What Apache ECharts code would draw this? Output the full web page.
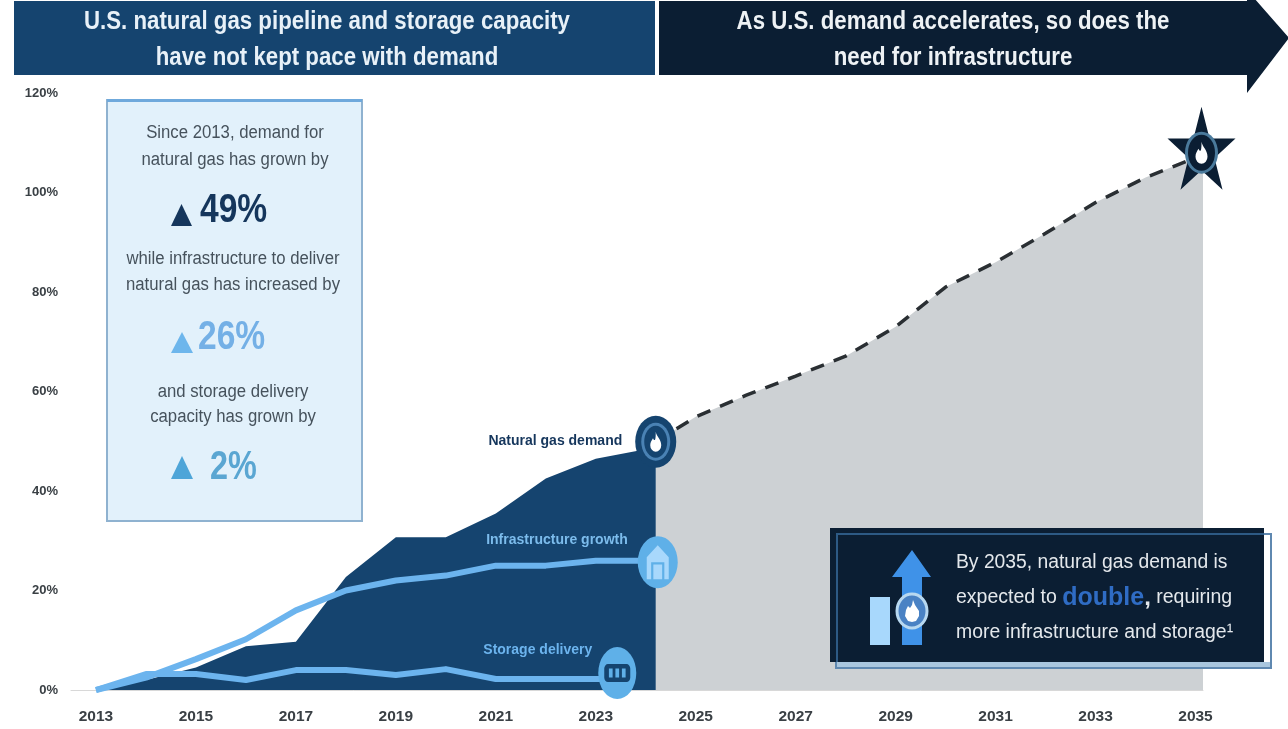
<!DOCTYPE html>
<html>
<head>
<meta charset="utf-8">
<style>html,body{margin:0;padding:0;background:#fff}#c{width:1288px;height:729px}</style>
<script src="https://cdn.jsdelivr.net/npm/echarts@6/dist/echarts.min.js"></script>
</head>
<body>
<div id="c"></div>
<script>
const tickYears = [2013,2015,2017,2019,2021,2023,2025,2027,2029,2031,2033,2035];
const histYears = [2013,2014,2015,2016,2017,2018,2019,2020,2021,2022,2023,2024,2024.2];
const demand = [0,2,4.5,8.8,9.7,22.7,30.7,30.7,35.5,42.5,46.5,48.4,49.9];
const infraYears = [2013,2014,2015,2016,2017,2018,2019,2020,2021,2022,2023,2024,2024.2];
const infrastructure = [0,2.5,6.2,10.2,16,20,22,23,25,25,26,26,26];
const storageYears = [2013,2014,2015,2016,2017,2018,2019,2020,2021,2022,2023,2023.4];
const storage = [0,3.2,3.2,2,4,4,3,4.2,2.2,2.2,2.2,2.2];
const forecastYears = [2024.2,2025,2026,2027,2028,2029,2030,2031,2032,2033,2034,2035,2035.15];
const forecast = [49.9,54.9,59.2,63.1,67.1,73,81,86,91.8,98,103,107,107.6];
const titleLeft = ['U.S. natural gas pipeline and storage capacity','have not kept pace with demand'];
const titleRight = ['As U.S. demand accelerates, so does the','need for infrastructure'];

const FONT = '"Liberation Sans", Arial, sans-serif';
const NAVY = '#15446f', INK = '#0b1e33', SKY = '#6cb4ee', GREY = '#cdd1d4', BODY = '#46525c';
const zip = (a, b) => a.map((x, i) => [x, b[i]]);

const FLAME = 'path://M12 0C13 6 20 9 20 17A8 8 0 0 1 4 17C4 13 6 11 8 8C9 10 10 11 11 10C12 8 12 4 12 0Z';
const STAR = 'path://M50 0L61.8 36.3 100 36.3 69.1 58.8 80.9 95.1 50 72.7 19.1 95.1 30.9 58.8 0 36.3 38.2 36.3Z';
const ARCH = 'path://M2 30V12L12 2 22 12V30H18V16H6V30ZM8 18H16V30H8Z';
const TANK = 'path://M4 4H24A4 4 0 0 1 28 8V16A4 4 0 0 1 24 20H4A4 4 0 0 1 0 16V8A4 4 0 0 1 4 4ZM5 8V16H9V8ZM12 8V16H16V8ZM19 8V16H23V8Z';

function marker(point, symbol, size, color, extra) {
  return Object.assign({
    type: 'scatter', data: [point], symbol, symbolSize: size, clip: false, silent: true,
    itemStyle: { color, opacity: 1 }, z: 5
  }, extra || {});
}
function nameLabel(text, color, distance, dy) {
  return { show: true, position: 'left', formatter: text, distance, offset: [0, dy],
    color, fontFamily: FONT, fontWeight: 'bold', fontSize: 14 };
}
function t(x, y, text, size, fill, weight, align, sx, extra) {
  return { type: 'text', z: 20, x, y, scaleX: sx || 1, style: Object.assign({ text, fontFamily: FONT, fontSize: size, fill,
    fontWeight: weight || 'normal', align: align || 'center', verticalAlign: 'middle' }, extra || {}) };
}
function tri(xl, xr, yt, yb, fill) {
  return { type: 'polygon', z: 20, shape: { points: [[(xl + xr) / 2, yt], [xr, yb], [xl, yb]] }, style: { fill } };
}
function rect(x, y, w, h, style) { return { type: 'rect', z: 15, shape: { x, y, width: w, height: h }, style }; }

const demandEnd = [2024.2, 49.9], infraEnd = [2024.24, 25.7], storageEnd = [2023.43, 3.4], starPoint = [2035.12, 108.9];

const graphic = [
  { type: 'polygon', z: 19, shape: { points: [[14,1],[655,1],[655,75],[14,75]] }, style: { fill: NAVY } },
  { type: 'polygon', z: 19, shape: { points: [[659,1],[1247,1],[1247,-10],[1289,38],[1247,93],[1247,75],[659,75]] }, style: { fill: INK } },
  t(327, 22, titleLeft[0], 25, '#e8f1f8', 'bold', 'center', 0.89),
  t(327, 58, titleLeft[1], 25, '#e8f1f8', 'bold', 'center', 0.89),
  t(953, 22, titleRight[0], 25, '#eef2f5', 'bold', 'center', 0.89),
  t(953, 58, titleRight[1], 25, '#eef2f5', 'bold', 'center', 0.89),

  rect(107, 100, 255, 421, { fill: '#e2f1fb', stroke: '#8fb2d0', lineWidth: 2 }),
  rect(107, 99, 255, 3, { fill: '#6fa9dc' }),
  t(235, 133, 'Since 2013, demand for', 18, BODY, 'normal', 'center', 0.93),
  t(235, 160, 'natural gas has grown by', 18, BODY, 'normal', 'center', 0.93),
  tri(171, 192, 204, 226, '#15365c'),
  t(200, 211, '49%', 40, '#15365c', 'bold', 'left', 0.84),
  t(233, 259, 'while infrastructure to deliver', 18, BODY, 'normal', 'center', 0.93),
  t(233, 285, 'natural gas has increased by', 18, BODY, 'normal', 'center', 0.93),
  tri(171, 193, 332, 353, '#6db6ec'),
  t(198, 338, '26%', 40, '#74b0e6', 'bold', 'left', 0.84),
  t(233, 392, 'and storage delivery', 18, BODY, 'normal', 'center', 0.93),
  t(233, 417, 'capacity has grown by', 18, BODY, 'normal', 'center', 0.93),
  tri(171, 193, 456, 479, '#4ea5d8'),
  t(210, 468, '2%', 40, '#5aa6d2', 'bold', 'left', 0.81),

  rect(837, 662, 434, 6, { fill: '#a9c6de' }),
  rect(836, 534, 435, 134, { fill: 'rgba(0,0,0,0)', stroke: '#5f88b0', lineWidth: 2 }),
  rect(830, 528, 434, 134, { fill: INK }),
  rect(836, 533, 428, 2, { fill: '#2d5a85' }),
  rect(836, 535, 2, 127, { fill: '#2d5a85' }),
  { type: 'polygon', z: 20, shape: { points: [[912,550],[931,577],[922,577],[922,645],[902,645],[902,577],[892,577]] }, style: { fill: '#3f92e8' } },
  rect(870, 597, 20, 48, { fill: '#a8d8fc' }),
  { type: 'ellipse', z: 21, shape: { cx: 912, cy: 611, rx: 15, ry: 17 }, style: { fill: '#4a82c4', stroke: '#b8d8f0', lineWidth: 3 } },
  { type: 'polygon', z: 22, shape: { points: [[913,600],[915,605],[919,611],[919,616],[916,621],[912,622],[908,621],[905,616],[906,610],[908,606],[910,608],[912,605]] }, style: { fill: '#fff' } },
  t(956, 562, 'By 2035, natural gas demand is', 20, '#e4e8ec', 'normal', 'left', 0.965),
  t(956, 598, '{a|expected to }{d|double}{b|,}{a| requiring}', 20, '#e4e8ec', 'normal', 'left', 1, {
    rich: {
      a: { fontFamily: FONT, fontSize: 19.5, fill: '#e4e8ec' },
      b: { fontFamily: FONT, fontSize: 24, fontWeight: 'bold', fill: '#e4e8ec' },
      d: { fontFamily: FONT, fontSize: 25, fontWeight: 'bold', fill: '#2f6cc4' }
    }
  }),
  t(956, 632, 'more infrastructure and storage\u00b9', 20, '#e4e8ec', 'normal', 'left', 0.97)
];

const option = {
  animation: false,
  backgroundColor: '#fff',
  textStyle: { fontFamily: FONT },
  grid: { left: 71, right: 85, top: 93, height: 597 },
  xAxis: {
    type: 'value', min: 2012.5, max: 2035.15, splitLine: { show: false },
    axisTick: { show: false },
    axisLine: { show: true, lineStyle: { color: '#d8d8d8', width: 1 } },
    axisLabel: { customValues: tickYears, formatter: v => String(v), color: '#3a4045',
      fontFamily: FONT, fontWeight: 'bold', fontSize: 15.5, margin: 19 }
  },
  yAxis: {
    type: 'value', min: 0, max: 120, interval: 20, splitLine: { show: false },
    axisTick: { show: false }, axisLine: { show: false },
    axisLabel: { formatter: '{value}%', color: '#3a4045', fontFamily: FONT, fontWeight: 'bold', fontSize: 13, margin: 13 }
  },
  graphic: { elements: graphic },
  series: [
    { type: 'line', data: zip(forecastYears, forecast), showSymbol: false, symbol: 'none', z: 2,
      lineStyle: { color: '#2a2f33', width: 3.5, type: [14, 10.5] }, areaStyle: { color: GREY, opacity: 1 } },
    { type: 'line', data: zip(histYears, demand), showSymbol: false, symbol: 'none', z: 3,
      lineStyle: { width: 0 }, areaStyle: { color: NAVY, opacity: 1 } },
    { type: 'line', data: zip(storageYears, storage), showSymbol: false, symbol: 'none', z: 4,
      lineStyle: { color: SKY, width: 6, join: 'round' } },
    { type: 'line', data: zip(infraYears, infrastructure), showSymbol: false, symbol: 'none', z: 4,
      lineStyle: { color: SKY, width: 6, join: 'round' } },

    marker(demandEnd, 'circle', [41, 52], NAVY, { label: nameLabel('Natural gas demand', '#15365c', 13, -1) }),
    marker(demandEnd, 'circle', [29, 38], '#4a82b4', { z: 6 }),
    marker(demandEnd, 'circle', [23, 32], NAVY, { z: 7 }),
    marker(demandEnd, FLAME, [11, 20], '#fff', { z: 8 }),

    marker(infraEnd, 'circle', [40, 52], '#5fb0e8', { label: nameLabel('Infrastructure growth', '#7cbcec', 10, -22) }),
    marker(infraEnd, ARCH, [22, 34], '#a8d8fc', { z: 6 }),

    marker(storageEnd, 'circle', [38, 52], '#5fb0e8', { label: nameLabel('Storage delivery', '#6cb4ee', 6, -23) }),
    marker(storageEnd, TANK, [26, 18], NAVY, { z: 6 }),

    marker(starPoint, STAR, [68, 83], INK, { z: 9 }),
    marker([2035.12, 108], 'circle', [33, 42], '#4a7a9c', { z: 10 }),
    marker([2035.12, 108], 'circle', [27, 36], INK, { z: 11 }),
    marker([2035.12, 108], FLAME, [12, 22], '#fff', { z: 12 })
  ]
};
echarts.init(document.getElementById('c'), null, { renderer: 'canvas' }).setOption(option);
</script>
</body>
</html>
